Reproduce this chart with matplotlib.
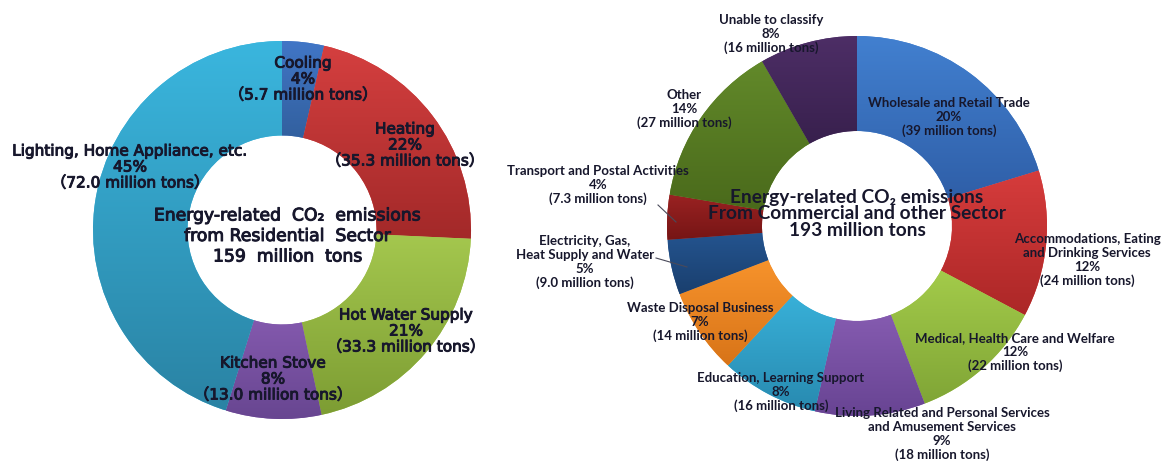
import matplotlib
matplotlib.use("Agg")
import numpy as np
import matplotlib.pyplot as plt
import matplotlib.patheffects as pe
from matplotlib.colors import to_rgb
from matplotlib.transforms import Bbox, TransformedBbox

# ---------------- data ----------------
res_names = ["Cooling", "Heating", "Hot Water Supply", "Kitchen Stove",
             "Lighting, Home Appliance, etc."]
res_pct = ["4%", "22%", "21%", "8%", "45%"]
res_tons = [5.7, 35.3, 33.3, 13.0, 72.0]
res_total = 159

com_names = ["Wholesale and Retail Trade",
             "Accommodations, Eating\nand Drinking Services",
             "Medical, Health Care and Welfare",
             "Living Related and Personal Services\nand Amusement Services",
             "Education, Learning Support",
             "Waste Disposal Business",
             "Electricity, Gas,\nHeat Supply and Water",
             "Transport and Postal Activities",
             "Other",
             "Unable to classify"]
com_pct = ["20%", "12%", "12%", "9%", "8%", "7%", "5%", "4%", "14%", "8%"]
com_tons = [39, 24, 22, 18, 16, 14, 9.0, 7.3, 27, 16]
com_total = 193

# ---------------- styling ----------------
res_top = ["#4176c6", "#d43f3f", "#a4c74e", "#8359ad", "#3ab6de"]
res_bot = ["#32609f", "#a32929", "#7d9d33", "#684691", "#2a83a4"]
com_top = ["#4280d0", "#d63c3c", "#a3cb4a", "#855bb0", "#38b0d8",
           "#f7932c", "#24548f", "#9a2222", "#62892a", "#4d2e66"]
com_bot = ["#2f5fa8", "#ac2727", "#80a536", "#684493", "#288ab0",
           "#d87418", "#1a3f6e", "#761515", "#4a6a1b", "#38204d"]
TXT = "#17172c"

W, H = 1169, 461
fig = plt.figure(figsize=(W / 100, H / 100), dpi=100)
ax = fig.add_axes([0, 0, 1, 1])

LEFT_C, LEFT_R = (282, H - 230), 189
RIGHT_C, RIGHT_R = (857, H - 226), 190


def donut(values, center, radius, tops, bots):
    wedges, _ = ax.pie(values, center=center, radius=radius, startangle=90,
                       counterclock=False, colors=tops,
                       wedgeprops=dict(width=radius * 0.5, edgecolor="none"))
    for w, c1, c2 in zip(wedges, tops, bots):
        ext = w.get_path().get_extents()
        a, b = np.array(to_rgb(c2)), np.array(to_rgb(c1))
        t = np.linspace(0, 1, 64)[:, None, None]
        img = a + (b - a) * t
        im = ax.imshow(img, extent=(ext.x0, ext.x1, ext.y0, ext.y1),
                       origin="lower", aspect="auto", interpolation="bilinear",
                       zorder=1.5)
        im.set_clip_path(w)
    return wedges


donut(res_tons, LEFT_C, LEFT_R, res_top, res_bot)
donut(com_tons, RIGHT_C, RIGHT_R, com_top, com_bot)

bold = [pe.withStroke(linewidth=0.7, foreground=TXT)]

# residential labels
res_pos = [(303, 79), (405, 145), (406, 331), (273, 379), (130, 167)]
for name, pct, v, (x, y) in zip(res_names, res_pct, res_tons, res_pos):
    ax.text(x, H - y, f"{name}\n{pct}\n（{v:.1f} million tons）",
            ha="center", va="center", multialignment="center",
            fontsize=11, color=TXT, linespacing=1.08, zorder=5,
            family=["DejaVu Sans", "Noto Sans CJK JP"], path_effects=bold)

ax.text(288, H - 236,
        f"Energy-related  CO₂  emissions\nfrom Residential  Sector\n{res_total}  million  tons",
        ha="center", va="center", multialignment="center", fontsize=12.4,
        color=TXT, linespacing=1.18, zorder=5, family=["DejaVu Sans"],
        path_effects=bold)

# commercial labels
com_pos = [(949, 117), (1087, 260), (1015, 352), (942, 434), (781, 392),
           (700, 322), (585, 262), (598, 185), (684, 109), (771, 34)]
clip = TransformedBbox(Bbox([[493, 0], [W, H]]), ax.transData)
for name, pct, v, (x, y) in zip(com_names, com_pct, com_tons, com_pos):
    tons = f"{v:.1f}" if v < 10 else f"{v:.0f}"
    t = ax.text(x, H - y, f"{name}\n{pct}\n({tons} million tons)",
                ha="center", va="center", multialignment="center",
                fontsize=9.5, color=TXT, linespacing=1.2, zorder=5,
                family=["Lato", "DejaVu Sans"], fontweight="bold")
    t.set_clip_box(clip)
    t.set_clip_on(True)

ax.text(857, H - 214,
        f"Energy-related CO₂ emissions\nFrom Commercial and other Sector\n{com_total} million tons",
        ha="center", va="center", multialignment="center", fontsize=13.8,
        color=TXT, linespacing=0.98, zorder=5, family=["Lato", "DejaVu Sans"],
        fontweight="bold")

# leader lines for the two thin slices
ax.plot([658, 676], [H - 205, H - 222], color="#4a4a5a", lw=0.8, zorder=4)
ax.plot([656, 687], [H - 258, H - 267], color="#4a4a5a", lw=0.8, zorder=4)

ax.set_xlim(0, W)
ax.set_ylim(0, H)
ax.set_aspect("equal")
ax.axis("off")

fig.savefig("out.png", dpi=100, facecolor="white")
